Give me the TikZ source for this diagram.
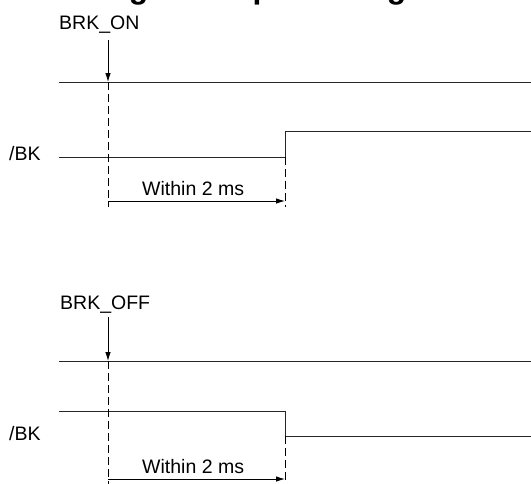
\documentclass[tikz,border=0pt]{standalone}
\usepackage{fontspec}
\setmainfont{Liberation Sans}
\usetikzlibrary{arrows.meta}
\begin{document}
\begin{tikzpicture}[x=1pt,y=-1pt,
  lbl/.style={anchor=base west,inner sep=0pt,font=\fontsize{19.5}{22}\selectfont},
  ttl/.style={anchor=base west,inner sep=0pt,font=\fontsize{31.8}{36}\selectfont\bfseries},
  sig/.style={line width=1pt,color=black!85},
  guide/.style={line width=0.9pt,dash pattern=on 8pt off 4pt},
  arr/.style={line width=0.9pt,-{Latex[length=9pt,width=5.5pt]}}]
\useasboundingbox (0,0) rectangle (531,483);
\clip (0,0) rectangle (531,483);
\fill[white] (0,0) rectangle (531,483);
% cut-off heading (only its descenders show at the top edge)
\node[ttl] (title) at (5,-1.5) {Brake signal output timing};
% ---------- upper diagram ----------
\node[lbl] (brkon) at (59,29) {BRK\_ON};
\node[lbl] (bk1) at (9,160) {/BK};
\node[lbl] (w1) at (142,195) {Within 2 ms};
\coordinate (a1s) at (108,40);
\coordinate (a1e) at (108,82);
\coordinate (l1a) at (59,82);
\coordinate (l1b) at (531,82);
\coordinate (s1a) at (59,157);
\coordinate (s1b) at (285,157);
\coordinate (s1c) at (285,131);
\coordinate (s1d) at (531,131);
\coordinate (d1a) at (108,207);
\coordinate (d1b) at (285,207);
\coordinate (h1a) at (108,201);
\coordinate (h1b) at (285,201);
\draw[sig] (l1a) -- (l1b);
\draw[sig] (s1a) -- (s1b) -- (s1c) -- (s1d);
\draw[guide] (a1e) -- (d1a);
\draw[guide] (s1b) -- (d1b);
\draw[arr] (a1s) -- (a1e);
\draw[arr] (h1a) -- (h1b);
% ---------- lower diagram ----------
\node[lbl] (brkoff) at (60,309) {BRK\_OFF};
\node[lbl] (bk2) at (9,440) {/BK};
\node[lbl] (w2) at (142,473) {Within 2 ms};
\coordinate (a2s) at (108,317);
\coordinate (a2e) at (108,361);
\coordinate (l2a) at (59,361);
\coordinate (l2b) at (531,361);
\coordinate (s2a) at (59,411);
\coordinate (s2b) at (285,411);
\coordinate (s2c) at (285,436);
\coordinate (s2d) at (531,436);
\coordinate (d2a) at (108,485);
\coordinate (d2b) at (285,485);
\coordinate (h2a) at (108,479);
\coordinate (h2b) at (285,479);
\draw[sig] (l2a) -- (l2b);
\draw[sig] (s2a) -- (s2b) -- (s2c) -- (s2d);
\draw[guide] (a2e) -- (d2a);
\draw[guide] (s2c) -- (d2b);
\draw[arr] (a2s) -- (a2e);
\draw[arr] (h2a) -- (h2b);
\end{tikzpicture}
\end{document}
